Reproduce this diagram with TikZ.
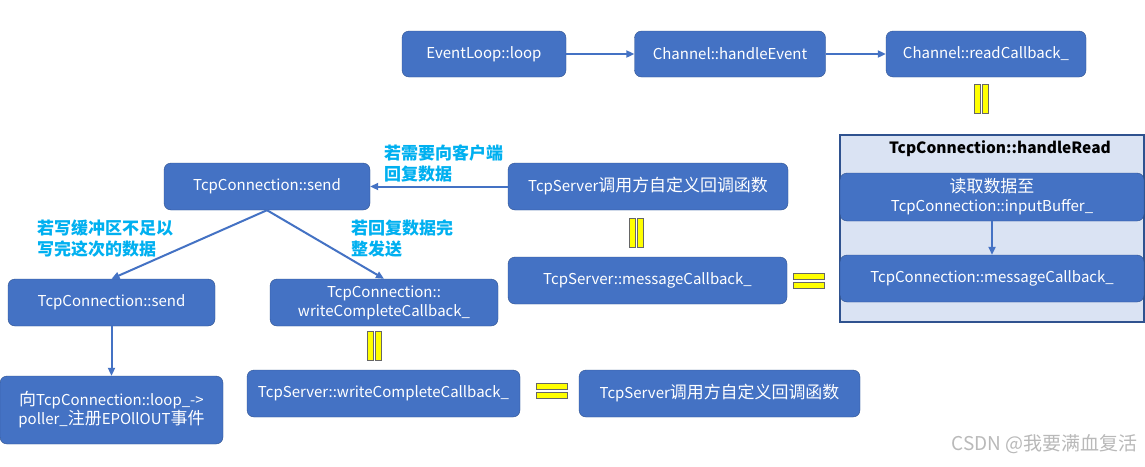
\documentclass[tikz,border=0pt]{standalone}
\usepackage{fontspec}
\setmainfont{Noto Sans CJK SC}
\newfontfamily\zh[Scale=1.13]{Noto Sans CJK SC}
\usetikzlibrary{arrows.meta}
\definecolor{boxblau}{HTML}{4472C4}
\definecolor{boxrand}{HTML}{2F528F}
\definecolor{hellblau}{HTML}{DAE3F3}
\definecolor{hinweis}{HTML}{00B0F0}
\definecolor{gelb}{HTML}{FFFF00}
\tikzset{
  funk/.style={draw=boxrand, fill=boxblau, rounded corners=7pt, text=white,
    align=center, inner sep=0pt, font=\fontsize{15}{19}\selectfont},
  pfeil/.style={draw=boxblau, line width=2pt, -{Triangle[length=8pt,width=7pt]}},
  hinweistext/.style={text=hinweis, font=\fontsize{17}{20.5}\selectfont\bfseries,
    align=left, anchor=north west, inner sep=0pt},
  gleich/.style={fill=gelb, draw=gray!80!black, line width=0.7pt},
}
\begin{document}
\begin{tikzpicture}[x=1pt, y=-1pt]
  \clip (0,0) rectangle (1145,466);
  \fill[white] (0,0) rectangle (1145,466);
  % Obere Reihe: Ereignisschleife
  \node[funk, minimum width=164pt, minimum height=46pt] (loop)   at (484,54) {EventLoop::loop};
  \node[funk, minimum width=191pt, minimum height=46pt] (handle) at (730,54) {Channel::handleEvent};
  \node[funk, minimum width=200pt, minimum height=46pt] (readcb) at (986,54) {Channel::readCallback\_};
  \draw[pfeil] (loop) -- (handle);
  \draw[pfeil] (handle) -- (readcb);
  % Rahmen handleRead
  \node[draw=boxrand, fill=hellblau, line width=1.4pt, minimum width=304pt, minimum height=187pt] (hread) at (992,228.5) {};
  \node[font=\fontsize{15.5}{19}\selectfont\bfseries] (hreadtitel) at (1000,149) {TcpConnection::handleRead};
  \node[funk, minimum width=304pt, minimum height=48pt] (lesen) at (992,197) {{\zh 读取数据至}\\TcpConnection::inputBuffer\_};
  \node[funk, minimum width=304pt, minimum height=47pt] (conmsg) at (992,278.5) {TcpConnection::messageCallback\_};
  \draw[pfeil] (lesen) -- (conmsg);
  % Mittlere Reihe
  \node[funk, minimum width=280pt, minimum height=47pt] (servcb)  at (648,186.5) {TcpServer{\zh 调用方自定义回调函数}};
  \node[funk, minimum width=279pt, minimum height=47pt] (servmsg) at (647.5,280.5) {TcpServer::messageCallback\_};
  \node[funk, minimum width=206pt, minimum height=47pt] (send)    at (267,186.5) {TcpConnection::send};
  \draw[pfeil] (servcb) -- (send);
  \node[hinweistext] (hwantwort) at (384,145) {若需要向客户端\\回复数据};
  % Verzweigung nach send
  \node[funk, minimum width=207pt, minimum height=47pt] (send2)   at (111.5,302.5) {TcpConnection::send};
  \node[funk, minimum width=228pt, minimum height=47pt] (conwc)   at (384,302.5) {TcpConnection::\\writeCompleteCallback\_};
  \draw[pfeil] (send.south) -- (send2.north);
  \draw[pfeil] (send.south) -- (conwc.north);
  \node[hinweistext] (hwpuffer)   at (37,220)  {若写缓冲区不足以\\写完这次的数据};
  \node[hinweistext] (hwkomplett) at (351,220) {若回复数据完\\整发送};
  % Untere Reihe
  \node[funk, minimum width=223pt, minimum height=68pt] (poller)  at (111.5,410) {{\zh 向}TcpConnection::loop\_->\\poller\_{\zh 注册}EPOllOUT{\zh 事件}};
  \draw[pfeil] (send2) -- (poller);
  \node[funk, minimum width=273pt, minimum height=47pt] (servwc)  at (383.5,393.5) {TcpServer::writeCompleteCallback\_};
  \node[funk, minimum width=281pt, minimum height=47pt] (servcb2) at (719.5,393.5) {TcpServer{\zh 调用方自定义回调函数}};
  % Gleichheitszeichen (senkrecht / waagrecht)
  \foreach \x/\y in {974/84, 629/218, 367/331}{
    \draw[gleich] (\x,\y) rectangle ++(6,29);
    \draw[gleich] (\x+8,\y) rectangle ++(6,29);
  }
  \foreach \x/\y in {793/273, 536/383}{
    \draw[gleich] (\x,\y) rectangle ++(31,6);
    \draw[gleich] (\x,\y+9) rectangle ++(31,6);
  }
  % Wasserzeichen
  \node[text=gray!55, font=\fontsize{19}{21}\selectfont, anchor=east] (marke) at (1141,444) {CSDN @我要满血复活};
\end{tikzpicture}
\end{document}
